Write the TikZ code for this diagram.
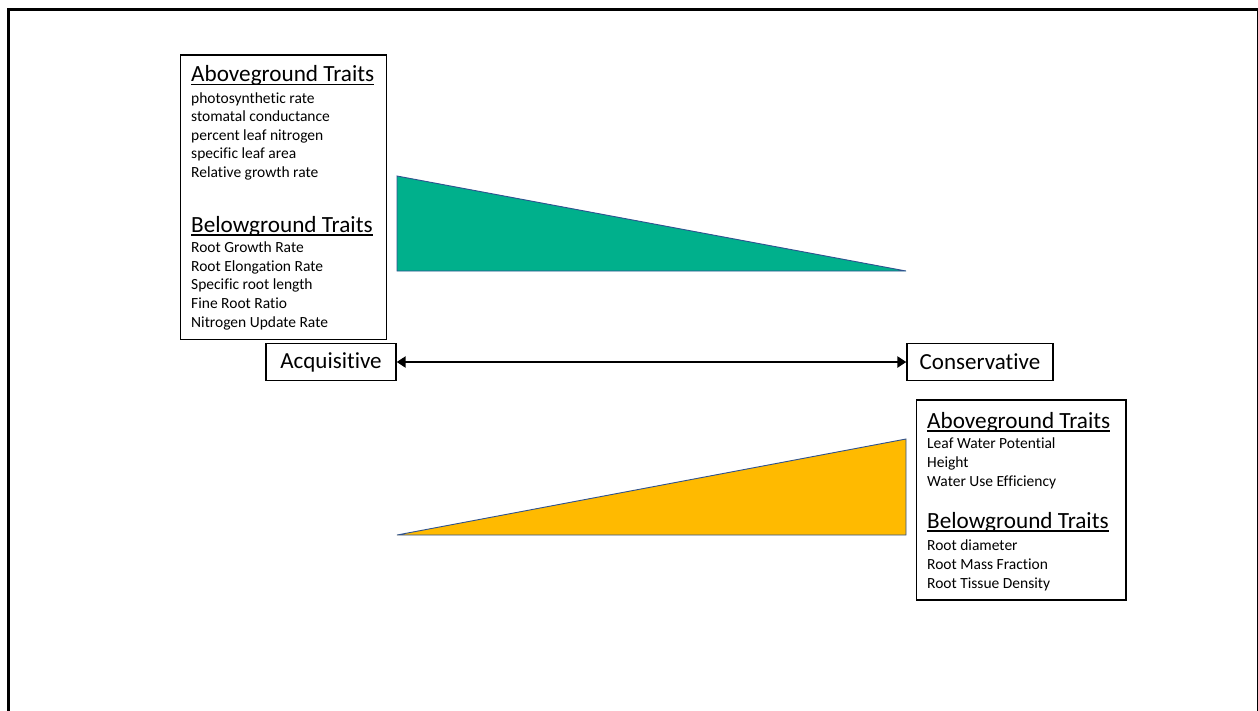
\documentclass[tikz,border=0pt]{standalone}
\usepackage{fontspec}
\setmainfont{Carlito}[Ligatures={NoCommon,NoRare,NoContextual}]
\usetikzlibrary{arrows.meta}
\definecolor{tealfill}{HTML}{00B08C}
\definecolor{goldfill}{HTML}{FFBA00}
\definecolor{shapeedge}{HTML}{2F528F}
\newcommand\myul[1]{\setbox0\hbox{#1}\rlap{\copy0}\rule[-3.6pt]{\wd0}{1.3pt}}
\begin{document}
\begin{tikzpicture}[x=1pt,y=-1pt,
  frame/.style={draw=black, line width=3pt},
  listbox/.style={draw=black, line width=1.3pt},
  head/.style={anchor=base west, inner sep=0pt, font=\fontsize{23.2}{27}\selectfont},
  item/.style={anchor=base west, inner sep=0pt, font=\fontsize{15.5}{18}\selectfont},
  endlabel/.style={draw=black, line width=1.3pt, inner sep=0pt, minimum height=37pt, font=\fontsize{23}{27}\selectfont},
  tri/.style={draw=shapeedge, line width=0.9pt, line join=miter},
  biarrow/.style={line width=2.8pt, {Triangle[length=9pt,width=11pt]}-{Triangle[length=9pt,width=11pt]}}
]
\useasboundingbox (0,0) rectangle (1258,710);
\draw[frame] (8.5,9) rectangle (1258.5,740);

% triangles
\filldraw[tri, fill=tealfill] (397,176) -- (397,271) -- (906,271) -- cycle;
\filldraw[tri, fill=goldfill] (397,535) -- (906,439) -- (906,535) -- cycle;

% left trait box
\draw[listbox] (180.5,55) rectangle (386.5,339.5);
\node[head] (lah) at (191,81.5) {\myul{Aboveground Traits}};
\node[item] (la1) at (191,103) {photosynthetic rate};
\node[item] (la2) at (191,121.5) {stomatal conductance};
\node[item] (la3) at (191,140.5) {percent leaf nitrogen};
\node[item] (la4) at (191,158.5) {specific leaf area};
\node[item] (la5) at (191,177.5) {Relative growth rate};
\node[head] (lbh) at (191,232) {\myul{Belowground Traits}};
\node[item] (lb1) at (191,252.5) {Root Growth Rate};
\node[item] (lb2) at (191,271) {Root Elongation Rate};
\node[item] (lb3) at (191,289.5) {Specific root length};
\node[item] (lb4) at (191,308) {Fine Root Ratio};
\node[item] (lb5) at (191,327) {Nitrogen Update Rate};

% right trait box
\draw[listbox] (916.5,400) rectangle (1126,600);
\node[head] (rah) at (927,428) {\myul{Aboveground Traits}};
\node[item] (ra1) at (927,448.5) {Leaf Water Potential};
\node[item] (ra2) at (927,467) {Height};
\node[item] (ra3) at (927,486.5) {Water Use Efficiency};
\node[head] (rbh) at (927,528) {\myul{Belowground Traits}};
\node[item] (rb1) at (927,550) {Root diameter};
\node[item] (rb2) at (927,569) {Root Mass Fraction};
\node[item] (rb3) at (927,588) {Root Tissue Density};

% end labels and arrow
\node[endlabel, minimum width=130pt] (acq) at (331,362) {Acquisitive};
\node[endlabel, minimum width=146pt] (con) at (980,362) {Conservative};
\draw[biarrow] (acq.east) -- (con.west);
\end{tikzpicture}
\end{document}
